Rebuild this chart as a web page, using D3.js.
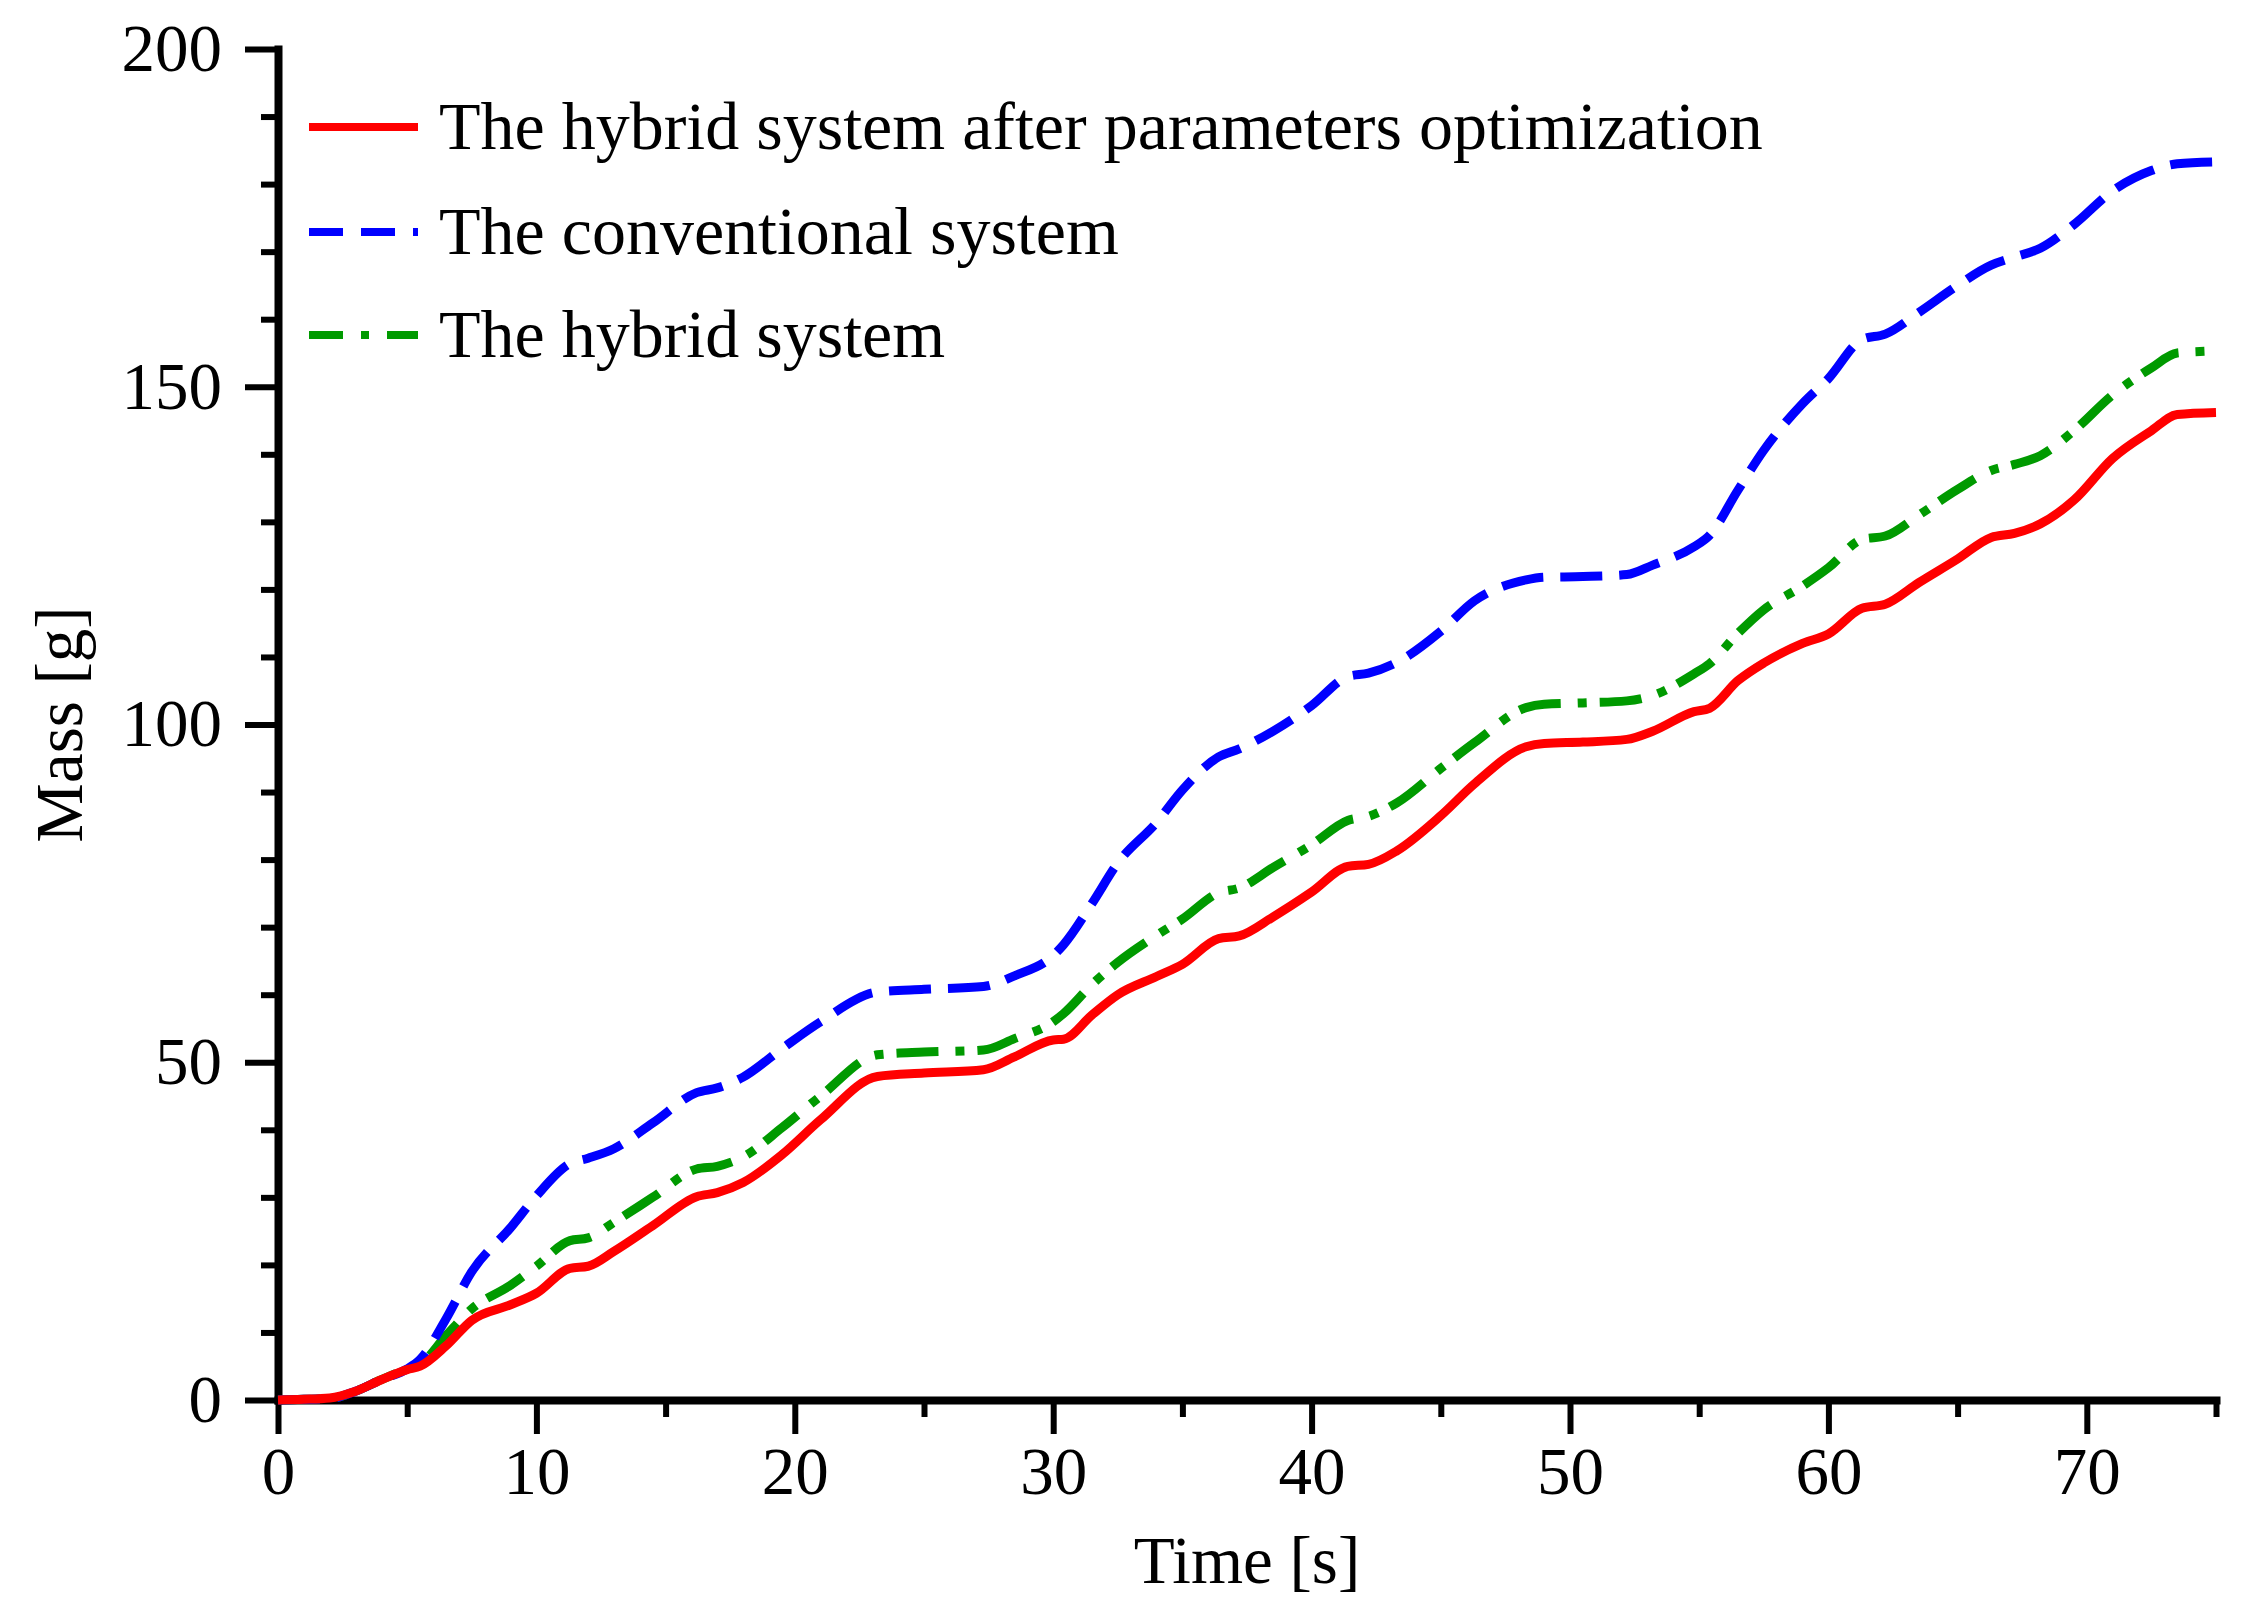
<!DOCTYPE html>
<html>
<head>
<meta charset="utf-8">
<script src="https://cdn.jsdelivr.net/npm/d3@7"></script>
<style>
  body { margin: 0; background: #fff; }
  text { font-family: "Liberation Serif", "Times New Roman", serif; }
</style>
</head>
<body>
<div id="chart"></div>
<script>
// time samples [s], shared by the three curves
const times = [0, 1, 2, 3, 4, 5, 5.5, 6.5, 7.5, 9, 10, 11.3, 12, 13, 14.5, 16.2, 17, 18, 19.5, 21,
  23.2, 25, 27.3, 28.5, 30, 30.4, 31.5, 32.5, 34, 35, 36.4, 37.2, 38.5, 40, 41.4, 42.2, 43.3, 45,
  46.3, 48.3, 49, 50.5, 52.2, 53.2, 54.8, 55.4, 56.5, 57.5, 59, 60, 61.3, 62.2, 63.5, 65, 66.3,
  67.2, 68.2, 69.5, 71, 72.5, 73.5, 75];

// mass [g]
const optimized = [0, 0.1, 0.3, 1.3, 3.0, 4.5, 5.0, 8, 11.8, 14.1, 15.8, 19.5, 19.8, 22, 25.8, 30.1,
  30.7, 32.2, 36.3, 41.5, 47.9, 48.4, 48.9, 50.8, 53.3, 53.4, 57, 60, 62.7, 64.5, 68.3, 68.7, 71.5,
  75.2, 79, 79.3, 81.3, 86.5, 91.2, 96.7, 97.2, 97.4, 97.8, 99, 101.9, 102.4, 106.5, 109.1, 112,
  113.4, 117.2, 117.8, 121, 124.5, 127.7, 128.3, 129.7, 133.2, 139.4, 143.5, 145.9, 146.2];

const conventional = [0, 0.1, 0.2, 1.3, 3.0, 4.6, 6.0, 12, 19, 25.5, 30.2, 35, 35.8, 37.2, 41, 45.5,
  46.2, 47.8, 52, 56, 60.4, 60.8, 61.2, 62.8, 65.8, 67.4, 73.5, 79.5, 85.5, 90.3, 95.2, 96.4, 99,
  102.8, 107.1, 107.6, 109.2, 113.8, 118.3, 121.4, 121.8, 121.9, 122.2, 123.6, 126.3, 128, 134.7,
  140.6, 147.5, 151.2, 157, 157.8, 161, 165, 168, 169.2, 170.5, 174, 179, 182, 183, 183.3];

const hybrid = [0, 0.1, 0.2, 1.3, 3.0, 4.6, 5.3, 9.5, 13.5, 17, 19.8, 23.6, 24, 26.3, 30, 34.2,
  34.6, 36, 40.3, 45, 51.1, 51.5, 51.8, 53.5, 56, 57.2, 61.5, 64.8, 68.8, 71.2, 75.1, 75.8, 78.8,
  82.2, 85.8, 86.4, 88.4, 93.5, 97.3, 102.5, 103, 103.2, 103.5, 104.3, 107.5, 109, 113.5, 117,
  120.5, 123.2, 127.4, 127.9, 131, 134.8, 137.6, 138.5, 139.8, 143.5, 148.8, 152.8, 155, 155.3];

const seriesNames = [
  "The hybrid system after parameters optimization",
  "The conventional system",
  "The hybrid system"
];

const xMajor = [0, 10, 20, 30, 40, 50, 60, 70];
const xMinor = [5, 15, 25, 35, 45, 55, 65, 75];
const yMajor = [0, 50, 100, 150, 200];
const yMinor = [10, 20, 30, 40, 60, 70, 80, 90, 110, 120, 130, 140, 160, 170, 180, 190];

const W = 2244, H = 1620;
const margin = { top: 49, right: 28, bottom: 220, left: 278 };
const width = W - margin.left - margin.right,
  height = H - margin.top - margin.bottom;

const svg = d3.select("#chart")
  .append("svg")
  .attr("width", W)
  .attr("height", H);

const g = svg.append("g").attr("transform", `translate(${margin.left},${margin.top})`);

const x = d3.scaleLinear().domain([0, 75]).range([0, width]);
const y = d3.scaleLinear().domain([0, 200]).range([height, 0]);

const fontSize = 67;

// minor ticks first, then major axes on top
g.append("g")
  .attr("transform", `translate(0,${height})`)
  .call(d3.axisBottom(x).tickValues(xMinor).tickSize(17).tickSizeOuter(0).tickFormat(""))
  .call((a) => a.select(".domain").remove());
g.append("g")
  .call(d3.axisLeft(y).tickValues(yMinor).tickSize(17).tickSizeOuter(0).tickFormat(""))
  .call((a) => a.select(".domain").remove());

g.append("g")
  .attr("transform", `translate(0,${height})`)
  .call(d3.axisBottom(x).tickValues(xMajor).tickSize(34).tickPadding(12).tickSizeOuter(0));
g.append("g")
  .call(d3.axisLeft(y).tickValues(yMajor).tickSize(33).tickPadding(23).tickSizeOuter(0));

g.selectAll(".tick line").attr("stroke-width", 6);
g.selectAll(".domain").attr("stroke-width", 8).attr("stroke-linecap", "square");
g.selectAll(".tick text")
  .attr("font-size", fontSize)
  .attr("font-family", '"Liberation Serif", "Times New Roman", serif')
  .attr("fill", "#000");

// axis titles
svg.append("text")
  .attr("x", margin.left + width / 2)
  .attr("y", 1583)
  .attr("text-anchor", "middle")
  .attr("font-size", fontSize)
  .text("Time [s]");

svg.append("text")
  .attr("transform", `translate(82,${margin.top + height / 2}) rotate(-90)`)
  .attr("text-anchor", "middle")
  .attr("font-size", fontSize)
  .text("Mass [g]");

// curves (plot dashes are a bit longer than the legend samples)
const series = [
  { name: seriesNames[0], values: optimized, color: "#ff0000", dash: null, legendDash: null },
  { name: seriesNames[1], values: conventional, color: "#0000ff", dash: "42,17", legendDash: "34,18" },
  { name: seriesNames[2], values: hybrid, color: "#009a00", dash: "42,17,9,13", legendDash: "34,18,8,18" }
];

const line = d3.line()
  .x((d) => x(d[0]))
  .y((d) => y(d[1]))
  .curve(d3.curveMonotoneX);

// draw green, blue, then red on top
[series[2], series[1], series[0]].forEach((s) => {
  g.append("path")
    .datum(times.map((t, i) => [t, s.values[i]]))
    .attr("fill", "none")
    .attr("stroke", s.color)
    .attr("stroke-width", 9)
    .attr("stroke-dasharray", s.dash)
    .attr("d", line);
});

// legend
const legend = svg.append("g");
const rowY = [127, 232, 335];
series.forEach((s, i) => {
  legend.append("line")
    .attr("x1", 309).attr("x2", 418)
    .attr("y1", rowY[i]).attr("y2", rowY[i])
    .attr("stroke", s.color)
    .attr("stroke-width", 8)
    .attr("stroke-dasharray", s.legendDash);
  legend.append("text")
    .attr("x", 439)
    .attr("y", rowY[i] + 22)
    .attr("font-size", 68)
    .text(s.name);
});
</script>
</body>
</html>
